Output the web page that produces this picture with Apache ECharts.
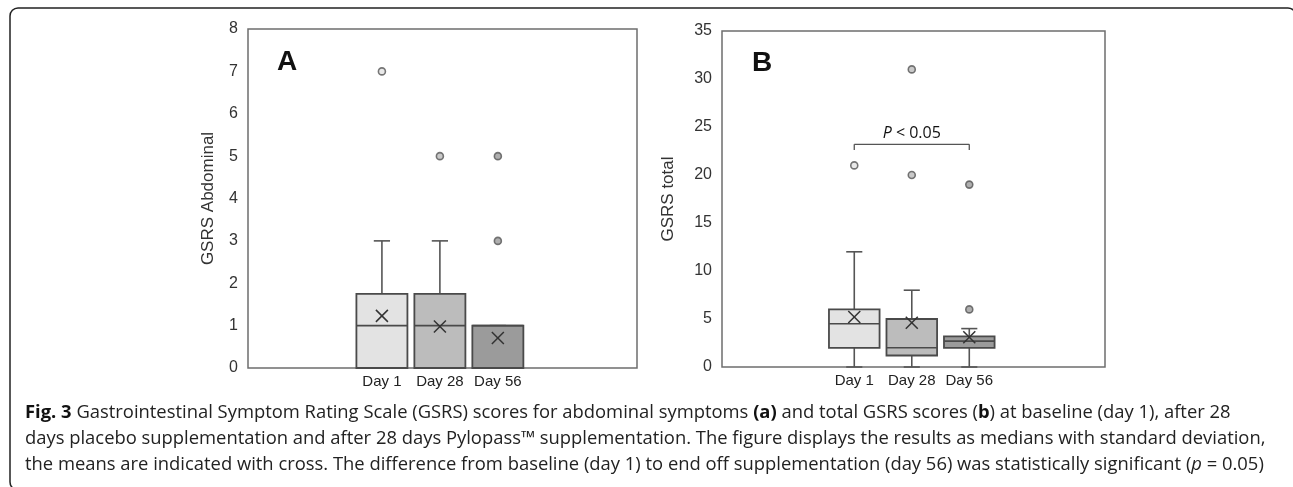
<!DOCTYPE html>
<html lang="en">
<head>
  <meta charset="UTF-8">
  <title>GSRS scores</title>
  <style>
    html, body { margin: 0; padding: 0; background: #fff; }
    #chart { width: 1293px; height: 487px; }
  </style>
  <script src="https://cdn.jsdelivr.net/npm/echarts@6/dist/echarts.min.js"></script>
</head>
<body>
  <div id="chart"></div>
<script>
  // categories
  var days = ['Day 1', 'Day 28', 'Day 56'];
  var boxFill = ['#e3e3e3', '#bcbcbc', '#9b9b9b'];

  // panel A - GSRS abdominal: [min, Q1, median, Q3, max] per day
  var abdBox = [[0, 0, 1, 1.75, 3], [0, 0, 1, 1.75, 3], [0, 0, 1, 1, 1]];
  var abdMean = [1.23, 0.98, 0.71];
  var abdOut = [[1, 7], [2, 5], [3, 5], [3, 3]];
  var abdTicks = [0, 8, 1];   // min, max, step

  // panel B - GSRS total
  var totBox = [[0, 2, 4.5, 6, 12], [0, 1.2, 2, 5, 8], [0, 2, 2.7, 3.2, 4]];
  var totMean = [5.2, 4.6, 3.1];
  var totOut = [[1, 21], [2, 20], [2, 31], [3, 6], [3, 19]];
  var totTicks = [0, 35, 5];

  // significance bracket (day 1 vs day 56)
  var sigPair = [1, 3];
  var sigLevel = [23.2, 22.6];   // bar, leg end

  var axisFont = 'Liberation Sans, Arial, sans-serif';

  function rows(box, mean) {
    return box.map(function (b, i) { return [i + 1].concat(b).concat([mean[i]]); });
  }

  function renderBox(params, api) {
    var x = api.value(0);
    var lo = api.value(1), q1 = api.value(2), med = api.value(3), q3 = api.value(4), hi = api.value(5), mean = api.value(6);
    var hw = 0.44, cw = 0.14;
    var fill = boxFill[params.dataIndex];
    var line = { stroke: '#555', lineWidth: 1.6 };
    var pHi = api.coord([x, hi]), pQ3 = api.coord([x, q3]), pQ1 = api.coord([x, q1]), pLo = api.coord([x, lo]);
    var capL = api.coord([x - cw, hi])[0], capR = api.coord([x + cw, hi])[0];
    var bl = api.coord([x - hw, q1]), tr = api.coord([x + hw, q3]);
    var pMed = api.coord([x, med]);
    var pMean = api.coord([x, mean]);
    var s = 6;
    return {
      type: 'group',
      children: [
        { type: 'line', shape: { x1: pHi[0], y1: pHi[1], x2: pQ3[0], y2: pQ3[1] }, style: line },
        { type: 'line', shape: { x1: pLo[0], y1: pLo[1], x2: pQ1[0], y2: pQ1[1] }, style: line },
        { type: 'line', shape: { x1: capL, y1: pHi[1], x2: capR, y2: pHi[1] }, style: line },
        { type: 'line', shape: { x1: capL, y1: pLo[1], x2: capR, y2: pLo[1] }, style: line },
        { type: 'rect', shape: { x: bl[0], y: tr[1], width: tr[0] - bl[0], height: bl[1] - tr[1] },
          style: { fill: fill, stroke: '#4a4a4a', lineWidth: 1.8 } },
        { type: 'line', shape: { x1: bl[0], y1: pMed[1], x2: tr[0], y2: pMed[1] }, style: { stroke: '#4a4a4a', lineWidth: 1.6 } },
        { type: 'line', shape: { x1: pMean[0] - s, y1: pMean[1] - s, x2: pMean[0] + s, y2: pMean[1] + s }, style: { stroke: '#333', lineWidth: 1.5 } },
        { type: 'line', shape: { x1: pMean[0] - s, y1: pMean[1] + s, x2: pMean[0] + s, y2: pMean[1] - s }, style: { stroke: '#333', lineWidth: 1.5 } }
      ]
    };
  }

  function renderBracket(params, api) {
    var a = api.coord([api.value(0), api.value(2)]);
    var b = api.coord([api.value(1), api.value(2)]);
    var legY = api.coord([api.value(0), api.value(3)])[1];
    var st = { stroke: '#555', lineWidth: 1.3 };
    return {
      type: 'group',
      children: [
        { type: 'line', shape: { x1: a[0], y1: a[1], x2: b[0], y2: b[1] }, style: st },
        { type: 'line', shape: { x1: a[0], y1: a[1], x2: a[0], y2: legY }, style: st },
        { type: 'line', shape: { x1: b[0], y1: b[1], x2: b[0], y2: legY }, style: st },
        { type: 'text', x: (a[0] + b[0]) / 2, y: a[1] - 3,
          style: { text: '{i|P} < 0.05', rich: { i: { fontStyle: 'italic', fontSize: 16, fontFamily: 'Open Sans', fill: '#111' } },
                   fontSize: 16, fontFamily: 'Open Sans', fill: '#111', align: 'center', verticalAlign: 'bottom' } }
      ]
    };
  }

  function xAxis(idx, min, max) {
    return {
      gridIndex: idx, type: 'value', min: min, max: max,
      axisLine: { show: false }, axisTick: { show: false }, splitLine: { show: false },
      axisLabel: {
        customValues: [1, 2, 3], margin: 6,
        formatter: function (v) { return days[Math.round(v) - 1] || ''; },
        fontSize: 15, color: '#222', fontFamily: axisFont
      }
    };
  }

  function yAxis(idx, ticks, name, gap) {
    return {
      gridIndex: idx, type: 'value', min: ticks[0], max: ticks[1], interval: ticks[2],
      name: name, nameLocation: 'middle', nameGap: gap,
      nameTextStyle: { fontSize: 17, color: '#333', fontFamily: axisFont },
      axisLine: { show: false }, axisTick: { show: false }, splitLine: { show: false },
      axisLabel: { fontSize: 16, color: '#333', margin: 10, fontFamily: axisFont }
    };
  }

  var outlierStyle = {
    color: function (p) { return boxFill[p.data[0] - 1]; },
    borderColor: '#555', borderWidth: 1.6
  };

  var caption = [
    '{b|Fig. 3} Gastrointestinal Symptom Rating Scale (GSRS) scores for abdominal symptoms {b|(a)} and total GSRS scores ({b|b}) at baseline (day 1), after 28',
    'days placebo supplementation and after 28 days Pylopass\u2122 supplementation. The figure displays the results as medians with standard deviation,',
    'the means are indicated with cross. The difference from baseline (day 1) to end off supplementation (day 56) was statistically significant ({i|p} = 0.05)'
  ];

  var capSize = 18.4;
  var capStyle = { fontSize: capSize, fontFamily: 'Open Sans', fill: '#222' };
  var capRich = { b: { fontWeight: 'bold', fontSize: capSize, fontFamily: 'Open Sans', fill: '#111' },
                  i: { fontStyle: 'italic', fontSize: capSize, fontFamily: 'Open Sans', fill: '#222' } };

  var option = {
    animation: false,
    backgroundColor: '#fff',
    grid: [
      { left: 248, top: 29, width: 389, height: 339, show: true, borderColor: '#6e6e6e', borderWidth: 1.5 },
      { left: 722, top: 31, width: 383, height: 336, show: true, borderColor: '#6e6e6e', borderWidth: 1.5 }
    ],
    xAxis: [xAxis(0, -1.31, 5.40), xAxis(1, -1.30, 5.36)],
    yAxis: [yAxis(0, abdTicks, 'GSRS Abdominal', 31), yAxis(1, totTicks, 'GSRS total', 45)],
    graphic: [
      { type: 'rect', shape: { x: 10, y: 8, width: 1286, height: 482, r: 8 },
        style: { fill: 'none', stroke: '#222', lineWidth: 1.5 }, silent: true },
      { type: 'text', x: 287, y: 62, style: { text: 'A', fontSize: 28, fontWeight: 'bold', fontFamily: axisFont, fill: '#111', align: 'center', verticalAlign: 'middle' } },
      { type: 'text', x: 762, y: 63, style: { text: 'B', fontSize: 28, fontWeight: 'bold', fontFamily: axisFont, fill: '#111', align: 'center', verticalAlign: 'middle' } },
      { type: 'text', x: 25, y: 413, style: Object.assign({ text: caption[0], rich: capRich, verticalAlign: 'middle' }, capStyle) },
      { type: 'text', x: 25, y: 439, style: Object.assign({ text: caption[1], rich: capRich, verticalAlign: 'middle' }, capStyle) },
      { type: 'text', x: 25, y: 465, style: Object.assign({ text: caption[2], rich: capRich, verticalAlign: 'middle' }, capStyle) }
    ],
    series: [
      { type: 'custom', xAxisIndex: 0, yAxisIndex: 0, renderItem: renderBox, data: rows(abdBox, abdMean), z: 2 },
      { type: 'scatter', xAxisIndex: 0, yAxisIndex: 0, data: abdOut, symbol: 'circle', symbolSize: 7, itemStyle: outlierStyle, z: 3 },
      { type: 'custom', xAxisIndex: 1, yAxisIndex: 1, renderItem: renderBox, data: rows(totBox, totMean), z: 2 },
      { type: 'scatter', xAxisIndex: 1, yAxisIndex: 1, data: totOut, symbol: 'circle', symbolSize: 7, itemStyle: outlierStyle, z: 3 },
      { type: 'custom', xAxisIndex: 1, yAxisIndex: 1, renderItem: renderBracket, data: [[sigPair[0], sigPair[1], sigLevel[0], sigLevel[1]]], z: 3 }
    ]
  };

  var myChart = echarts.init(document.getElementById('chart'));
  myChart.setOption(option);
</script>
</body>
</html>
